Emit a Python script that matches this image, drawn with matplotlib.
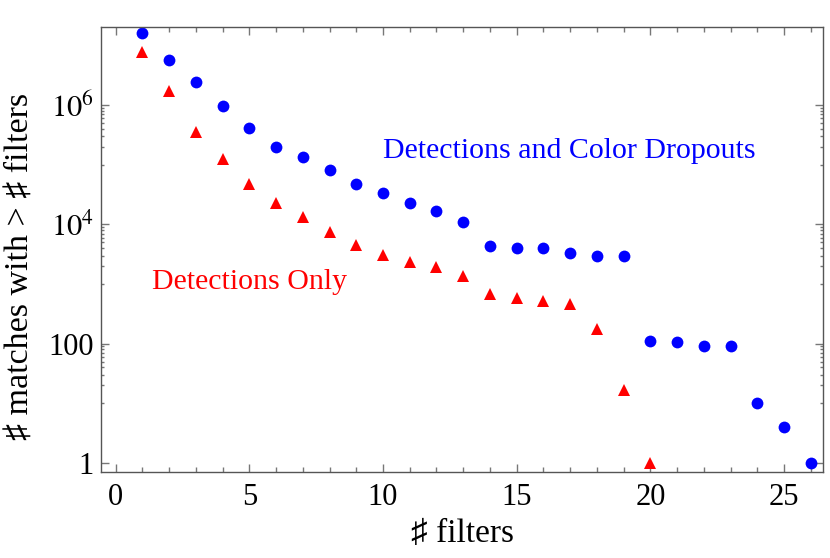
import numpy as np
import matplotlib as mpl
mpl.use('Agg')
import matplotlib.pyplot as plt
from matplotlib.ticker import FixedLocator, FixedFormatter

mpl.rcParams['font.family'] = ['Liberation Serif', 'DejaVu Sans']
mpl.rcParams['mathtext.fontset'] = 'stix'

DPI = 100

# data
n_blue = [1, 2, 3, 4, 5, 6, 7, 8, 9, 10, 11, 12, 13, 14, 15, 16, 17, 18, 19,
          20, 21, 22, 23, 24, 25, 26]
matches_blue = [1.6e7, 5.6e6, 2.4e6, 9.7e5, 4.1e5, 2.0e5, 1.37e5, 8.3e4, 4.75e4,
                3.3e4, 2.3e4, 1.69e4, 1.08e4, 4400, 4000, 4000, 3300, 2970, 2970,
                109, 105, 92, 92, 10, 4, 1]
n_red = [1, 2, 3, 4, 5, 6, 7, 8, 9, 10, 11, 12, 13, 14, 15, 16, 17, 18, 19, 20]
matches_red = [7.9e6, 1.75e6, 3.6e5, 1.27e5, 4.7e4, 2.26e4, 1.33e4, 7.5e3, 4.5e3,
               3.1e3, 2.3e3, 1.92e3, 1.36e3, 676, 580, 528, 464, 174, 16.7, 1]

ytick_vals = [1, 100, 1e4, 1e6]
ytick_labels = ["1", "100", "$10^4$", "$10^6$"]
xtick_vals = [0, 5, 10, 15, 20, 25]

fig = plt.figure(figsize=(830/DPI, 558/DPI), dpi=DPI)
ax = fig.add_axes([101/830, 1-472/558, 722/830, 445/558])

ax.plot(n_blue, matches_blue, linestyle='none', marker='o', markersize=8.5,
        color='#0000ff', markeredgewidth=0)
ax.plot(n_red, matches_red, linestyle='none', marker='^', markersize=8,
        color='#ff0000', markeredgewidth=0)

ax.set_yscale('log')
ax.set_xlim(-0.55, 26.46)
ax.set_ylim(0.706, 2.04e7)

# Mathematica style ticks
minor_y = []
for m in ytick_vals[1:]:
    minor_y += [m / 10 * k for k in range(1, 10)]
ax.yaxis.set_major_locator(FixedLocator(ytick_vals))
ax.yaxis.set_major_formatter(FixedFormatter(ytick_labels))
ax.yaxis.set_minor_locator(FixedLocator(minor_y))
ax.yaxis.set_minor_formatter(FixedFormatter([""] * len(minor_y)))
ax.xaxis.set_major_locator(FixedLocator(xtick_vals))
ax.xaxis.set_minor_locator(FixedLocator([i for i in range(27) if i % 5 != 0]))

ax.tick_params(which='both', direction='in', top=True, right=True, colors='#777777',
               labelcolor='black', labelsize=22, width=1)
ax.tick_params(axis='x', which='major', length=6, pad=8)
ax.tick_params(axis='x', which='minor', length=3.4)
ax.tick_params(axis='y', which='major', length=6, pad=5)
ax.tick_params(axis='y', which='minor', length=2)
for s in ax.spines.values():
    s.set_color('#555555')
    s.set_linewidth(1)

ax.set_xlabel("\u266f filters", fontsize=24)
ax.set_ylabel("\u266f matches with > \u266f filters", fontsize=24.5)
ax.xaxis.set_label_coords(0.5, -0.105)
ax.yaxis.set_label_coords(-0.092, 0.463)

ax.text(16.96, 1.7e5, "Detections and Color Dropouts", color='#0000ff',
        fontsize=21.5, ha='center', va='center')
ax.text(4.99, 1.07e3, "Detections Only", color='#ff0000',
        fontsize=21.5, ha='center', va='center')

fig.savefig("out.png", dpi=DPI)
